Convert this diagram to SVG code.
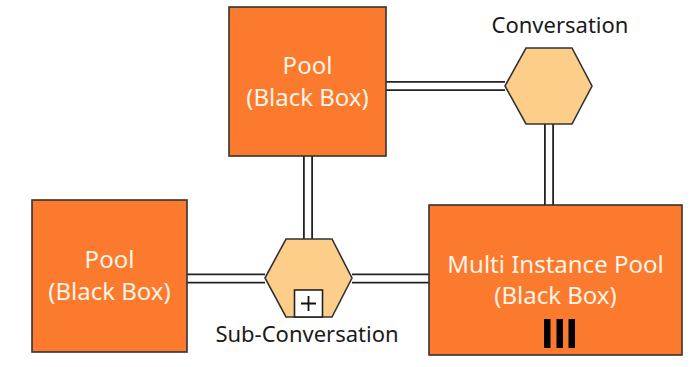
<svg xmlns="http://www.w3.org/2000/svg" width="698" height="367" viewBox="0 0 698 367">
<style>
.pool{fill:#FB7A2E;stroke:#333;stroke-width:1.6}
.hex{fill:#FDCD8A;stroke:#333;stroke-width:1.6}
.pt{font-family:"Noto Sans","Open Sans",sans-serif;font-size:24px;fill:#FFF4E6;text-anchor:middle}
.lbl{font-family:"Noto Sans","Open Sans",sans-serif;font-size:22px;fill:#1a1a1a;text-anchor:middle}
.outer{stroke:#222;stroke-width:10;fill:none}
.inner{stroke:#fff;stroke-width:6.4;fill:none}
</style>
<rect width="698" height="367" fill="#fff"/>
<g id="connectors">
<path class="outer" d="M386 86H505M549 124V205M308 156V239M187 278.5H265M352 278.5H429"/>
<path class="inner" d="M386 86H505M549 124V205M308 156V239M187 278.5H265M352 278.5H429"/>
</g>
<g id="pool-top">
<rect class="pool" x="229" y="7" width="157" height="149"/>
<text class="pt" x="307.5" y="74">Pool</text>
<text class="pt" x="307.5" y="106">(Black Box)</text>
</g>
<g id="pool-left">
<rect class="pool" x="32" y="200" width="155" height="152"/>
<text class="pt" x="109.5" y="268">Pool</text>
<text class="pt" x="109.5" y="300">(Black Box)</text>
</g>
<g id="pool-multi">
<rect class="pool" x="429" y="205" width="253" height="150"/>
<text class="pt" x="555.5" y="273">Multi Instance Pool</text>
<text class="pt" x="555.5" y="304">(Black Box)</text>
<rect x="544" y="319" width="6.5" height="29" fill="#000"/>
<rect x="556.5" y="319" width="6.5" height="29" fill="#000"/>
<rect x="568.5" y="319" width="6.5" height="29" fill="#000"/>
</g>
<g id="conversation">
<polygon class="hex" points="505,86 526,48 572,48 592,86 572,124 526,124"/>
<text class="lbl" x="560" y="33">Conversation</text>
</g>
<g id="sub-conversation">
<polygon class="hex" points="265,278 286,239 332,239 352,278 332,317 286,317"/>
<rect x="294.5" y="290" width="28" height="27" fill="#fff" stroke="#222" stroke-width="1.6"/>
<path d="M308.5 296V311M301 303.5H316" stroke="#111" stroke-width="1.8"/>
<text class="lbl" x="307" y="342">Sub-Conversation</text>
</g>
</svg>
